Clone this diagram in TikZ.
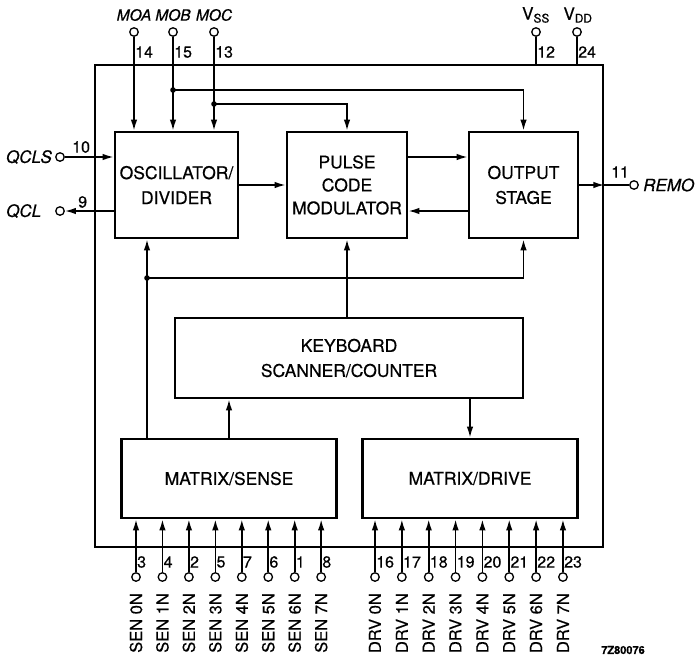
\documentclass[tikz,border=0pt]{standalone}
\usepackage{fontspec}
\setmainfont{TeX Gyre Heros}[FakeBold=0.5]
\usetikzlibrary{arrows.meta, positioning}

\begin{document}
\begin{tikzpicture}[
        x=1pt, y=-1pt,
        block/.style={rectangle, draw, line width=2.7pt, inner sep=0pt, align=center, font=\fontsize{17.5}{25}\selectfont},
        pad/.style={circle, draw, line width=1.3pt, fill=white, minimum size=8.5pt, inner sep=0pt},
        pinnum/.style={anchor=west, inner sep=1pt, font=\fontsize{16}{16}\selectfont},
        signame/.style={inner sep=0pt, font=\fontsize{17}{17}\selectfont\itshape},
        topname/.style={inner sep=0pt, font=\fontsize{15.5}{15.5}\selectfont\itshape},
        pinname/.style={rotate=90, anchor=east, inner sep=0pt, font=\fontsize{16.5}{16.5}\selectfont},
        line/.style={draw, line width=1.6pt, -{Latex[length=11pt, width=6.5pt]}},
        wire/.style={draw, line width=1.6pt}
    ]
    \useasboundingbox (0,0) rectangle (700,659);

    % Nodes
    \node [block, minimum width=508pt, minimum height=482pt] (chip) at (349,306) {};
    \node [block, minimum width=123pt, minimum height=106pt] (osc) at (176.5,185) {OSCILLATOR/\\DIVIDER};
    \node [block, minimum width=120pt, minimum height=106pt, font=\fontsize{17.5}{23}\selectfont] (pcm) at (347,185) {PULSE\\CODE\\MODULATOR};
    \node [block, minimum width=109pt, minimum height=106pt] (out) at (523.5,185) {OUTPUT\\STAGE};
    \node [block, minimum width=348pt, minimum height=80pt] (kbd) at (349,358) {KEYBOARD\\SCANNER/COUNTER};
    \node [block, minimum width=215pt, minimum height=79pt] (sense) at (229,478.5) {MATRIX/SENSE};
    \node [block, minimum width=215pt, minimum height=79pt] (drive) at (470,478.5) {MATRIX/DRIVE};

    % Top pins
    \foreach \nm/\txt/\num/\x in {moa/MOA/14/134, mob/MOB/15/173, moc/MOC/13/214} {
        \node [pad] (\nm) at (\x,32) {};
        \node [topname] (\nm-name) at (\x,15) {\txt};
        \node [pinnum] at (\x,52) {\num};
        \path [line] (\nm) -- (\nm |- osc.north);
    }
    \node [pad] (vss) at (536,32) {};
    \node [inner sep=0pt, font=\fontsize{17}{17}\selectfont] (vss-name) at (536,15) {V\textsubscript{SS}};
    \node [pinnum] at (536,52) {12};
    \node [pad] (vdd) at (577,32) {};
    \node [inner sep=0pt, font=\fontsize{17}{17}\selectfont] (vdd-name) at (578,15) {V\textsubscript{DD}};
    \node [pinnum] at (577,52) {24};
    \path [wire] (vss) -- (vss |- chip.north);
    \path [wire] (vdd) -- (vdd |- chip.north);

    % Side pins
    \node [pad] (qcls) at (60,157) {};
    \node [signame, anchor=east] (qcls-name) at (52,157) {QCLS};
    \node [pinnum] at (71,147) {10};
    \node [pad] (qcl) at (60,211) {};
    \node [signame, anchor=west] (qcl-name) at (6,211) {QCL};
    \node [pinnum] at (77,202) {9};
    \node [pad] (remo) at (634,185) {};
    \node [signame, anchor=west] (remo-name) at (643,185) {REMO};
    \node [pinnum] at (610,172) {11};

    % Junctions
    \coordinate (jb) at (173,90);
    \coordinate (jc) at (214,104);
    \coordinate (js) at (147,278);
    \foreach \j in {jb, jc, js} \fill (\j) circle [radius=2.8pt];

    % Edges
    \path [line] (qcls) -- (qcls -| osc.west);
    \path [line] (qcl -| osc.west) -- (qcl);
    \path [line] (jb) -| (out.north);
    \path [line] (jc) -| (pcm.north);
    \path [line] (osc) -- (pcm);
    \path [line] ([yshift=28pt]pcm.east) -- ([yshift=28pt]pcm.east -| out.west);
    \path [line] ([yshift=-26pt]out.west) -- ([yshift=-26pt]out.west -| pcm.east);
    \path [line] (out.east) -- (out.east -| chip.east);
    \path [wire] (out.east -| chip.east) -- (remo);
    \path [wire] (js |- sense.north) -- (js);
    \path [line] (js) -- (js |- osc.south);
    \path [line] (js) -| (out.south);
    \path [line] (pcm.south |- kbd.north) -- (pcm.south);
    \path [line] (sense.north) -- (sense.north |- kbd.south);
    \path [line] (drive.north |- kbd.south) -- (drive.north);

    % Bottom pins
    \foreach \num [count=\k from 0] in {3,4,2,5,7,6,1,8} {
        \node [pad] (sen\k) at ({136+26.45*\k},577) {};
        \node [pinnum] at ({136+26.45*\k},562) {\num};
        \node [pinname] at ({136+26.45*\k},593) {SEN \k N};
        \path [line] (sen\k) -- (sen\k |- sense.south);
    }
    \foreach \num [count=\k from 0] in {16,...,23} {
        \node [pad] (drv\k) at ({375+26.85*\k},577) {};
        \node [pinnum] at ({375+26.85*\k},562) {\num};
        \node [pinname] at ({375+26.85*\k},593) {DRV \k N};
        \path [line] (drv\k) -- (drv\k |- drive.south);
    }

    \node [font=\fontsize{11}{11}\selectfont\bfseries] (code) at (623,650) {7Z80076};
\end{tikzpicture}
\end{document}
